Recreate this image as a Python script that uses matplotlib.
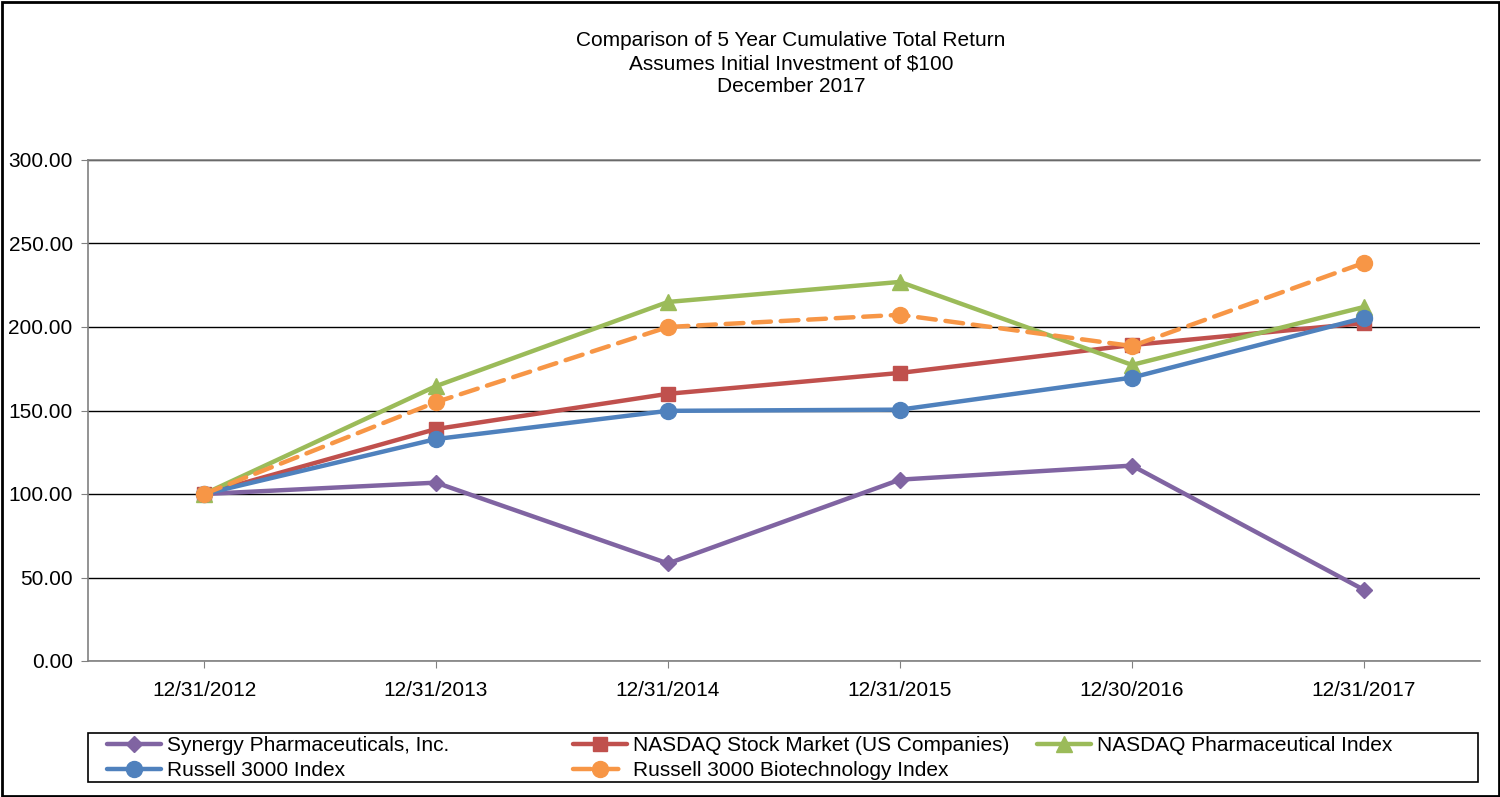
import matplotlib
matplotlib.use("Agg")
import matplotlib.pyplot as plt
from matplotlib.patches import Rectangle

plt.rcParams['font.family'] = ['Liberation Sans', 'DejaVu Sans']

dates = ["12/31/2012", "12/31/2013", "12/31/2014", "12/31/2015", "12/30/2016", "12/31/2017"]
synergy = [100.00, 106.8, 58.4, 108.6, 117.0, 42.6]
nasdaq = [100.00, 138.9, 160.0, 172.5, 189.2, 202.3]
pharma = [100.00, 164.6, 215.0, 227.0, 177.3, 212.0]
russell = [100.00, 132.9, 149.8, 150.5, 169.7, 205.4]
biotech = [100.00, 155.0, 200.0, 207.3, 188.6, 238.4]

names = ["Synergy Pharmaceuticals, Inc.", "NASDAQ Stock Market (US Companies)",
         "NASDAQ Pharmaceutical Index", "Russell 3000 Index", "Russell 3000 Biotechnology Index"]
colors = ["#8064A2", "#C0504D", "#9BBB59", "#4F81BD", "#F79646"]
markers = ["D", "s", "^", "o", "o"]
msizes = [8, 10.5, 11, 11.5, 11.5]
styles = ["-", "-", "-", "-", (0, (4, 2.2))]
series = [synergy, nasdaq, pharma, russell, biotech]

fig = plt.figure(figsize=(15, 7.97), dpi=100)
ax = fig.add_axes([88/1500, 1-661/797, (1480-88)/1500, (661-160)/797])

x = list(range(len(dates)))
handles = []
for vals, name, c, m, ms, ls in zip(series, names, colors, markers, msizes, styles):
    h, = ax.plot(x, vals, color=c, marker=m, markersize=ms, linewidth=3.2, linestyle=ls,
                 markeredgecolor=c, label=name, solid_capstyle='round', dash_capstyle='round')
    handles.append(h)

ax.set_xlim(-0.5, len(dates) - 0.5)
ax.set_ylim(0, 300)
yt = [0, 50, 100, 150, 200, 250, 300]
ax.set_yticks(yt)
ax.set_yticklabels([f"{v:.2f}" for v in yt], fontsize=15)
ax.set_xticks(x)
ax.set_xticklabels(dates, fontsize=15)
ax.tick_params(axis='y', length=5, color='#808080', pad=6)
ax.tick_params(axis='x', length=5, color='#808080', pad=9.5)
ax.yaxis.grid(True, color='black', linewidth=1)
ax.set_axisbelow(True)
for s in ['left', 'bottom', 'top']:
    ax.spines[s].set_color('#808080')
    ax.spines[s].set_linewidth(1.2)
ax.spines['right'].set_visible(False)

for ty, txt in [(41, "Comparison of 5 Year Cumulative Total Return"),
                (64, "Assumes Initial Investment of $100"),
                (87, "December 2017")]:
    fig.text(791/1500, 1-ty/797, txt, ha='center', va='center', fontsize=15)

# legend box
fig.patches.append(Rectangle((88/1500, 1-782/797), (1478-88)/1500, 49/797,
                             transform=fig.transFigure, fill=False, edgecolor='black', linewidth=1.2))
cols = [([handles[0], handles[3]], 107), ([handles[1], handles[4]], 573), ([handles[2]], 1037)]
for hs, xpos in cols:
    fig.legend(handles=hs, loc='upper left', bbox_to_anchor=(xpos/1500, 1-736/797),
               frameon=False, fontsize=15, handlelength=2.6, handletextpad=0.3,
               labelspacing=0.3, borderpad=0.0, borderaxespad=0.0)

# figure border
fig.patches.append(Rectangle((0.001, 0.001), 0.998, 0.997, transform=fig.transFigure,
                             fill=False, edgecolor='black', linewidth=2))

fig.savefig("out.png", dpi=100)
